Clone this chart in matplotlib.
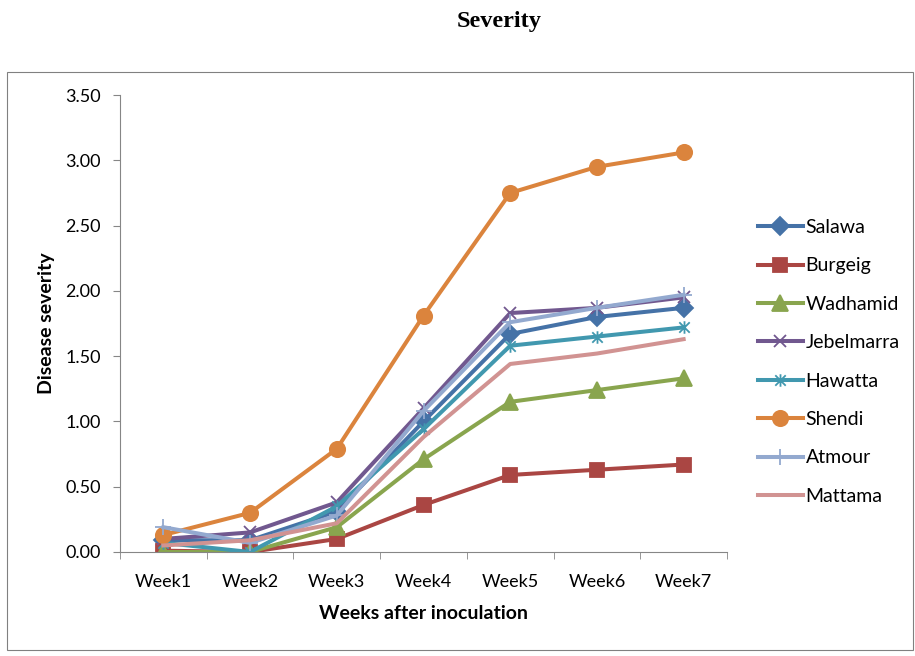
import matplotlib
matplotlib.use('Agg')
import matplotlib.pyplot as plt
from matplotlib.path import Path
from matplotlib.patches import Rectangle

weeks = ['Week1', 'Week2', 'Week3', 'Week4', 'Week5', 'Week6', 'Week7']

salawa = [0.09, 0.09, 0.31, 1.00, 1.67, 1.80, 1.87]
burgeig = [0.01, 0.00, 0.10, 0.36, 0.59, 0.63, 0.67]
wadhamid = [0.00, 0.00, 0.19, 0.71, 1.15, 1.24, 1.33]
jebelmarra = [0.10, 0.15, 0.38, 1.10, 1.83, 1.87, 1.95]
hawatta = [0.07, 0.00, 0.35, 0.94, 1.58, 1.65, 1.72]
shendi = [0.13, 0.30, 0.79, 1.81, 2.75, 2.95, 3.06]
atmour = [0.19, 0.07, 0.28, 1.08, 1.76, 1.87, 1.97]
mattama = [0.05, 0.09, 0.22, 0.88, 1.44, 1.52, 1.63]

# Excel-style asterisk marker (x with a vertical bar)
asterisk = Path([(-1, -1), (1, 1), (-1, 1), (1, -1), (0, -1.2), (0, 1.2)],
                [Path.MOVETO, Path.LINETO, Path.MOVETO, Path.LINETO, Path.MOVETO, Path.LINETO])

series = [
    ('Salawa', salawa, '#4572A7', 'D', 9),
    ('Burgeig', burgeig, '#AA4643', 's', 10),
    ('Wadhamid', wadhamid, '#89A54E', '^', 11),
    ('Jebelmarra', jebelmarra, '#71588F', 'x', 9),
    ('Hawatta', hawatta, '#4198AF', asterisk, 9),
    ('Shendi', shendi, '#DB843D', 'o', 11),
    ('Atmour', atmour, '#93A9CF', '+', 12),
    ('Mattama', mattama, '#D19392', None, 0),
]

plt.rcParams['font.family'] = ['Lato', 'DejaVu Sans']

fig = plt.figure(figsize=(9.15, 6.56), dpi=100)
fig.patches.append(Rectangle((7 / 915, 1 - 650 / 656), 906 / 915, 578 / 656,
                             transform=fig.transFigure, fill=False,
                             edgecolor='#808080', linewidth=0.8))

ax = fig.add_axes([120 / 915, 1 - 552 / 656, 607 / 915, 457 / 656])
x = list(range(len(weeks)))
for name, vals, color, marker, ms in series:
    if marker is None:
        ax.plot(x, vals, color=color, linewidth=2.9, label=name)
    else:
        ax.plot(x, vals, color=color, linewidth=2.9, marker=marker, markersize=ms,
                markerfacecolor=color, markeredgecolor=color, markeredgewidth=1.3,
                label=name)

ax.set_xlim(-0.5, 6.5)
ax.set_ylim(0, 3.5)
ax.set_yticks([0, 0.5, 1.0, 1.5, 2.0, 2.5, 3.0, 3.5])
ax.set_yticklabels(['%.2f' % v for v in ax.get_yticks()], fontsize=13)
ax.set_xticks(x)
ax.set_xticklabels(weeks, fontsize=13)
ax.set_xticks([i - 0.5 for i in range(len(weeks) + 1)], minor=True)
ax.tick_params(axis='x', which='major', length=0, pad=15.5)
ax.tick_params(axis='x', which='minor', length=5, color='#868686', direction='out')
ax.tick_params(axis='y', length=5, color='#868686', direction='out', pad=9)
for s in ['top', 'right']:
    ax.spines[s].set_visible(False)
for s in ['left', 'bottom']:
    ax.spines[s].set_color('#868686')
ax.set_ylabel('Disease severity', fontsize=14, fontweight='bold', labelpad=7)
ax.set_xlabel('Weeks after inoculation', fontsize=14, fontweight='bold', labelpad=11)

fig.text(0.545, 1 - 21 / 656, 'Severity', ha='center', va='center',
         fontsize=17.5, fontweight='bold', family='Liberation Serif')

fig.legend(loc='upper left', bbox_to_anchor=(758 / 915, 1 - 219 / 656),
           frameon=False, fontsize=14, handlelength=2.3, handletextpad=0.15,
           labelspacing=1.1, borderpad=0, borderaxespad=0)

fig.savefig('out.png', dpi=100)
